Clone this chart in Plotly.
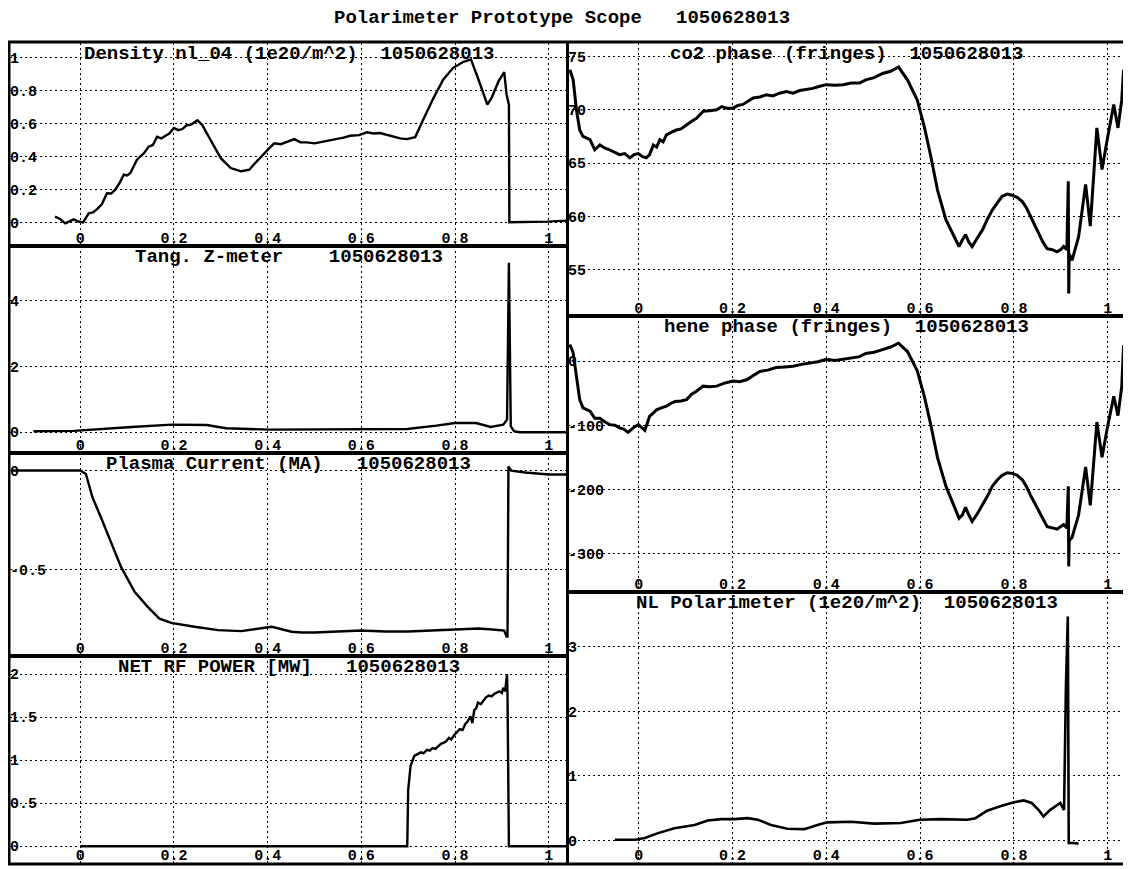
import plotly.graph_objects as go

# page is 1131x869; the html body has an 8px margin, so the figure is drawn 8px in
OFF = 8
FW, FH = 1131 - OFF, 869 - OFF
SHOT = "1050628013"

# ---------------- data ----------------
x_tick_vals = [0, 0.2, 0.4, 0.6, 0.8, 1]
x_tick_text = ["0", "0.2", "0.4", "0.6", "0.8", "1"]

density_x = [-0.054, -0.043, -0.032, -0.022, -0.014, -0.004, 0.006, 0.018, 0.027, 0.036, 0.046, 0.057,
             0.066, 0.075, 0.084, 0.093, 0.1, 0.107, 0.114, 0.121, 0.128, 0.136,
             0.146, 0.155, 0.164, 0.173, 0.182, 0.19, 0.2, 0.209, 0.218, 0.227, 0.236, 0.25, 0.26,
             0.273, 0.286, 0.3, 0.31, 0.321, 0.332, 0.343, 0.352, 0.361,
             0.37, 0.379, 0.39, 0.4, 0.414, 0.428, 0.443, 0.457, 0.47, 0.484, 0.5, 0.519, 0.535,
             0.548, 0.562, 0.576, 0.595, 0.612, 0.626, 0.64, 0.655, 0.668, 0.683, 0.697,
             0.715, 0.732, 0.754, 0.775, 0.796, 0.818, 0.834, 0.85, 0.869, 0.878, 0.893, 0.905,
             0.91, 0.915, 0.916, 0.996, 1.039]
density_y = [0.035, 0.02, -0.006, 0.01, 0.018, 0.005, 0.0, 0.055, 0.06, 0.08, 0.11, 0.177,
             0.175, 0.2, 0.24, 0.29, 0.285, 0.30, 0.34, 0.38, 0.4, 0.42,
             0.46, 0.47, 0.52, 0.51, 0.526, 0.54, 0.573, 0.56, 0.567, 0.59, 0.593, 0.62, 0.593,
             0.53, 0.46, 0.39, 0.36, 0.33, 0.32, 0.31, 0.315, 0.32,
             0.35, 0.38, 0.41, 0.44, 0.48, 0.475, 0.49, 0.506, 0.486, 0.486, 0.48, 0.49, 0.5,
             0.506, 0.515, 0.526, 0.53, 0.547, 0.54, 0.543, 0.53, 0.522, 0.51, 0.506,
             0.518, 0.624, 0.756, 0.868, 0.939, 0.976, 0.99, 0.868, 0.715, 0.756, 0.858, 0.913,
             0.776, 0.715, 0.0, 0.004, 0.01]

zmeter_x = [-0.1, -0.014, 0.11, 0.195, 0.27, 0.311, 0.404, 0.605, 0.698, 0.76, 0.8, 0.845,
            0.876, 0.903, 0.911, 0.915, 0.919, 0.926, 0.938, 1.039]
zmeter_y = [0.03, 0.04, 0.16, 0.23, 0.22, 0.12, 0.08, 0.08, 0.1, 0.2, 0.28, 0.28,
            0.16, 0.23, 0.38, 5.14, 0.18, 0.03, 0.0, 0.0]

current_x = [-0.145, 0.0, 0.012, 0.026, 0.044, 0.066, 0.087, 0.116, 0.144, 0.169, 0.194, 0.244,
             0.294, 0.344, 0.387, 0.409, 0.451, 0.473, 0.5, 0.55, 0.6, 0.65, 0.7, 0.75, 0.8,
             0.85, 0.88, 0.905, 0.91, 0.912, 0.914, 0.92, 0.95, 1.0, 1.039]
current_y = [0.0, 0.0, -0.017, -0.135, -0.236, -0.37, -0.488, -0.614, -0.69, -0.75, -0.771, -0.791,
             -0.808, -0.813, -0.8, -0.791, -0.816, -0.82, -0.82, -0.815, -0.81, -0.815, -0.815,
             -0.81, -0.805, -0.8, -0.805, -0.81, -0.84, -0.84, 0.02, 0.0, -0.01, -0.02, -0.02]

rf_x = [0.0, 0.698, 0.7, 0.705, 0.713, 0.72, 0.727, 0.733, 0.74, 0.746, 0.752, 0.758, 0.764, 0.77,
        0.775, 0.781, 0.787, 0.792, 0.798, 0.804, 0.81, 0.816,
        0.822, 0.827, 0.833, 0.837, 0.841, 0.845, 0.849, 0.855, 0.861, 0.866, 0.872, 0.878, 0.884,
        0.89, 0.895, 0.9, 0.903, 0.907, 0.911, 0.912, 0.915, 1.043]
rf_y = [0.0, 0.0, 0.655, 0.93, 1.05, 1.07, 1.09, 1.08, 1.12, 1.11, 1.14, 1.13, 1.16, 1.19,
        1.2, 1.22, 1.26, 1.24, 1.29, 1.33, 1.36, 1.35,
        1.42, 1.45, 1.51, 1.43, 1.58, 1.6, 1.67, 1.65, 1.7, 1.73, 1.75, 1.74, 1.77,
        1.79, 1.8, 1.78, 1.84, 1.8, 2.0, 1.75, 0.0, 0.0]

co2_x = [-0.147, -0.14, -0.133, -0.126, -0.119, -0.104, -0.094, -0.083, -0.072, -0.062, -0.051, -0.041,
         -0.03, -0.019, -0.01, -0.001, 0.008, 0.016, 0.023, 0.031, 0.038, 0.045, 0.052, 0.059, 0.07,
         0.08, 0.09, 0.102, 0.112, 0.123, 0.137, 0.151, 0.166, 0.177, 0.187,
         0.201, 0.211, 0.222, 0.233, 0.244, 0.258, 0.272, 0.286, 0.3, 0.315, 0.329, 0.343, 0.357,
         0.371, 0.386, 0.4, 0.418, 0.436, 0.453, 0.471, 0.484, 0.502, 0.52, 0.537, 0.554,
         0.573, 0.594, 0.609, 0.623, 0.637, 0.655, 0.669, 0.683, 0.69, 0.697, 0.704, 0.711, 0.722,
         0.733, 0.744, 0.754, 0.765,
         0.775, 0.786, 0.796, 0.807, 0.818, 0.827, 0.836, 0.845, 0.853, 0.862, 0.871, 0.882, 0.892,
         0.9, 0.906, 0.913, 0.916, 0.917, 0.918,
         0.924, 0.938, 0.953, 0.963, 0.977, 0.988, 0.999, 1.013, 1.022, 1.03, 1.034]
co2_y = [73.75, 72.8, 70.0, 68.1, 67.5, 67.2, 66.25, 66.7, 66.4, 66.25, 66.0, 65.8,
         65.9, 65.5, 65.8, 65.9, 65.6, 65.5, 65.8, 66.7, 66.5, 67.2, 67.0, 67.65, 67.9,
         68.1, 68.2, 68.6, 68.9, 69.2, 69.85, 69.9, 70.0, 70.3, 70.15,
         70.15, 70.4, 70.5, 70.8, 71.1, 71.2, 71.4, 71.3, 71.55, 71.7, 71.55, 71.8, 71.9,
         72.0, 72.2, 72.35, 72.3, 72.35, 72.5, 72.5, 72.8, 73.0, 73.4, 73.6, 74.0,
         72.8, 70.9, 68.4, 65.6, 62.5, 59.7, 58.4, 57.2, 57.8, 58.3, 57.6, 57.2, 58.0,
         58.75, 59.8, 60.6, 61.3,
         61.9, 62.1, 62.0, 61.8, 61.4, 60.8, 60.0, 59.2, 58.4, 57.6, 57.0, 56.9, 56.7,
         56.9, 57.2, 56.9, 63.3, 52.8, 56.5,
         55.9, 58.1, 63.0, 59.1, 68.3, 64.4, 67.2, 70.5, 68.3, 70.9, 73.75]

hene_x = [-0.147, -0.14, -0.133, -0.126, -0.119, -0.104, -0.094, -0.083, -0.072, -0.062, -0.051, -0.041,
          -0.032, -0.023, -0.012, -0.001, 0.007, 0.013, 0.023, 0.03, 0.038, 0.048, 0.059, 0.068, 0.077,
          0.09, 0.102, 0.112, 0.123, 0.137, 0.151, 0.166, 0.184, 0.201, 0.215, 0.23,
          0.244, 0.258, 0.275, 0.293, 0.311, 0.329, 0.347, 0.365, 0.382, 0.4, 0.418, 0.436, 0.453,
          0.471, 0.484, 0.502, 0.52, 0.537, 0.554, 0.573, 0.594,
          0.609, 0.623, 0.637, 0.655, 0.669, 0.683, 0.69, 0.697, 0.704, 0.711, 0.722, 0.733, 0.744,
          0.754, 0.765, 0.775, 0.786, 0.796,
          0.807, 0.818, 0.827, 0.836, 0.845, 0.853, 0.862, 0.871, 0.882, 0.892, 0.9, 0.906, 0.913,
          0.916, 0.917, 0.918, 0.924, 0.938,
          0.953, 0.963, 0.977, 0.988, 0.999, 1.013, 1.022, 1.03, 1.034]
hene_y = [26, 13, -23.5, -60, -73, -78, -89, -89, -95, -99, -100, -104,
          -106, -111, -104, -99, -104, -108, -86, -82, -76, -73, -70, -66, -63,
          -62, -60, -52, -47, -39, -40, -39, -34, -31, -32, -29,
          -22, -16, -14, -10, -9, -8, -5, -3, -1, 3, 1, 3, 5,
          7, 12, 14, 18, 22, 28, 15, -15,
          -55, -100, -150, -195, -220, -245, -240, -228, -240, -250, -238, -225, -210,
          -195, -185, -178, -174, -175,
          -178, -185, -196, -210, -222, -235, -246, -258, -260, -262, -258, -255, -260,
          -195, -320, -280, -275, -240,
          -165, -225, -95, -150, -105, -55, -85, -40, 25]

nl_x = [-0.051, -0.008, 0.013, 0.041, 0.076, 0.119, 0.147, 0.176, 0.204, 0.232, 0.254, 0.282,
        0.317, 0.353, 0.381, 0.402, 0.452, 0.502, 0.559, 0.599, 0.644, 0.7, 0.718, 0.743,
        0.771, 0.8, 0.821, 0.838, 0.853, 0.863, 0.877, 0.899, 0.907, 0.911, 0.915, 0.917,
        0.927, 0.938]
nl_y = [0.01, 0.01, 0.036, 0.113, 0.19, 0.24, 0.31, 0.33, 0.33, 0.345, 0.32, 0.24,
        0.18, 0.175, 0.24, 0.28, 0.29, 0.26, 0.27, 0.32, 0.33, 0.32, 0.345, 0.46,
        0.53, 0.59, 0.62, 0.58, 0.47, 0.37, 0.47, 0.58, 0.47, 2.38, 3.47, -0.04,
        -0.04, -0.05]

density_ticks = [0, 0.2, 0.4, 0.6, 0.8, 1]
density_tick_text = ["0", "0.2", "0.4", "0.6", "0.8", "1"]
zmeter_ticks = [0, 2, 4]
zmeter_tick_text = ["0", "2", "4"]
current_ticks = [-0.5, 0]
current_tick_text = ["-0.5", "0"]
rf_ticks = [0, 0.5, 1, 1.5, 2]
rf_tick_text = ["0", "0.5", "1", "1.5", "2"]
co2_ticks = [55, 60, 65, 70, 75]
co2_tick_text = ["55", "60", "65", "70", "75"]
hene_ticks = [-300, -200, -100, 0]
hene_tick_text = ["-300", "-200", "-100", "0"]
nl_ticks = [0, 1, 2, 3]
nl_tick_text = ["0", "1", "2", "3"]

titles = [
    "Density nl_04 (1e20/m^2)",
    "Tang. Z-meter",
    "Plasma Current (MA)",
    "NET RF POWER [MW]",
    "co2 phase (fringes)",
    "hene phase (fringes)",
    "NL Polarimeter (1e20/m^2)",
]
title_gaps = [2, 4, 3, 3, 2, 2, 2]
main_title = "Polarimeter Prototype Scope   " + SHOT

# ---------------- layout (page pixel positions) ----------------
LEFT = (10, 567)
RIGHT = (568, 1125)
panels = [
    dict(x=density_x, y=density_y, tv=density_ticks, tt=density_tick_text, yr=[-0.144, 1.09],
         col=LEFT, top=43, bot=246, xr=[-0.15, 1.039], lw=2.4),
    dict(x=zmeter_x, y=zmeter_y, tv=zmeter_ticks, tt=zmeter_tick_text, yr=[-0.63, 5.65],
         col=LEFT, top=246, bot=453, xr=[-0.15, 1.039], lw=2.4),
    dict(x=current_x, y=current_y, tv=current_ticks, tt=current_tick_text, yr=[-0.939, 0.089],
         col=LEFT, top=453, bot=656, xr=[-0.15, 1.039], lw=2.4),
    dict(x=rf_x, y=rf_y, tv=rf_ticks, tt=rf_tick_text, yr=[-0.195, 2.21],
         col=LEFT, top=656, bot=863, xr=[-0.15, 1.039], lw=2.4),
    dict(x=co2_x, y=co2_y, tv=co2_ticks, tt=co2_tick_text, yr=[50.69, 76.25],
         col=RIGHT, top=43, bot=316, xr=[-0.151, 1.037], lw=3),
    dict(x=hene_x, y=hene_y, tv=hene_ticks, tt=hene_tick_text, yr=[-360, 70.4],
         col=RIGHT, top=316, bot=592, xr=[-0.151, 1.037], lw=3),
    dict(x=nl_x, y=nl_y, tv=nl_ticks, tt=nl_tick_text, yr=[-0.35, 3.85],
         col=RIGHT, top=592, bot=863, xr=[-0.151, 1.037], lw=2.6),
]

FONT = "Liberation Mono, Courier New, monospace"
tick_font = dict(family=FONT, size=15, color="black", weight="bold")
title_font = dict(family=FONT, size=19, color="black", weight="bold")

fig = go.Figure()
layout = dict(
    width=FW, height=FH, autosize=False,
    margin=dict(l=0, r=0, t=0, b=0),
    paper_bgcolor="white", plot_bgcolor="white",
    showlegend=False,
    annotations=[], shapes=[],
)

def px_x(v):
    return (v - OFF) / FW

def px_y(v):
    return 1 - (v - OFF) / FH

for i, p in enumerate(panels):
    n = "" if i == 0 else str(i + 1)
    fig.add_trace(go.Scatter(x=p["x"], y=p["y"], mode="lines",
                             line=dict(color="black", width=p["lw"]),
                             xaxis="x" + n, yaxis="y" + n, hoverinfo="skip"))
    common = dict(showline=True, mirror=True, linecolor="black", linewidth=2,
                  showgrid=True, gridcolor="black", gridwidth=1, griddash="2px,3px",
                  zeroline=False, ticks="", ticklabelposition="inside",
                  tickfont=tick_font, fixedrange=True)
    layout["xaxis" + n] = dict(common, domain=[px_x(p["col"][0]), px_x(p["col"][1])],
                               range=p["xr"], tickvals=x_tick_vals, ticktext=x_tick_text,
                               anchor="y" + n)
    layout["yaxis" + n] = dict(common, domain=[px_y(p["bot"]), px_y(p["top"])],
                               range=p["yr"], tickvals=p["tv"], ticktext=p["tt"],
                               anchor="x" + n)
    txt = titles[i] + "\u00a0" * title_gaps[i] + SHOT
    layout["annotations"].append(dict(
        text=txt, xref="paper", yref="paper",
        x=px_x((p["col"][0] + p["col"][1]) / 2), y=px_y(p["top"] + 11),
        xanchor="center", yanchor="middle", showarrow=False, borderpad=0, font=title_font))

layout["annotations"].append(dict(
    text=main_title.replace(" ", "\u00a0"), xref="paper", yref="paper",
    x=px_x(562), y=px_y(18), xanchor="center", yanchor="middle", showarrow=False,
    borderpad=0, font=dict(family=FONT, size=19, color="black", weight="bold")))

layout["shapes"].append(dict(type="rect", xref="paper", yref="paper",
                             x0=px_x(9), x1=px_x(1126), y0=px_y(864), y1=px_y(42),
                             line=dict(color="black", width=3)))

fig.update_layout(**layout)
fig.write_html("out.html")
